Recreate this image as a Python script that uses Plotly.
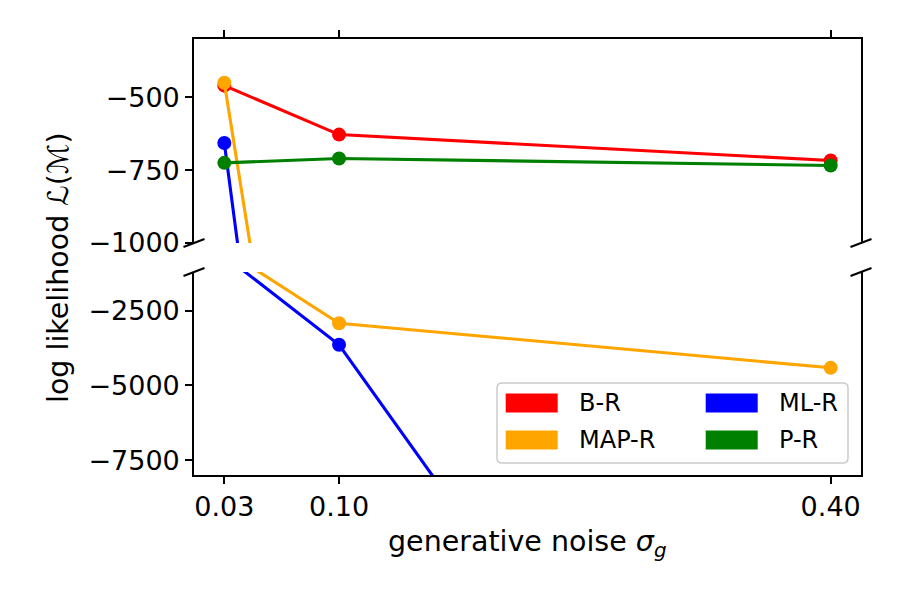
import plotly.graph_objects as go

# ---- data ----
sigma_g = [0.03, 0.10, 0.40]
sigma_labels = ["0.03", "0.10", "0.40"]
series_names = ["B-R", "MAP-R", "ML-R", "P-R"]
b_r = [-460, -628, -717]
map_r = [-450, -2916, -4410]
ml_r = [-657, -3638, -26700]
p_r = [-725, -710, -734]
series_colors = ["#ff0000", "#ffa500", "#0000ff", "#008000"]
top_ticks = [-500, -750, -1000]
bottom_ticks = [-2500, -5000, -7500]

# ---- layout geometry (pixels) ----
W, H = 900, 600
L, R, T, B = 194, 39, 39, 125
PW = W - L - R
PH = H - T - B
FONT = "DejaVu Sans"


def px(x):
    return (x - L) / PW


def py(y):
    return (H - B - y) / PH


fig = go.Figure()
all_vals = [b_r, map_r, ml_r, p_r]
for name, vals, c in zip(series_names, all_vals, series_colors):
    for xa, ya in (("x2", "y2"), ("x", "y")):
        fig.add_trace(go.Scatter(
            x=sigma_g, y=vals, mode="lines+markers", name=name,
            xaxis=xa, yaxis=ya,
            line=dict(color=c, width=3.1),
            marker=dict(color=c, size=14, line=dict(width=0)),
            showlegend=False, cliponaxis=True,
        ))

axis_common = dict(
    showline=True, linecolor="black", linewidth=1.6,
    ticks="outside", ticklen=7, tickwidth=1.6, tickcolor="black",
    showgrid=False, zeroline=False,
    tickfont=dict(family=FONT, size=27, color="black"),
)

fig.update_layout(
    width=W, height=H,
    margin=dict(l=L, r=R, t=T, b=B),
    paper_bgcolor="white", plot_bgcolor="white",
    showlegend=False,
    font=dict(family=FONT, color="black"),
    xaxis=dict(domain=[0, 1], range=[0.0115, 0.4185], anchor="y",
               tickvals=sigma_g, ticktext=sigma_labels, **axis_common),
    xaxis2=dict(domain=[0, 1], range=[0.0115, 0.4185], anchor="y2",
                matches="x", side="top", showticklabels=False,
                tickvals=sigma_g, **axis_common),
    yaxis=dict(domain=[0, py(272)], range=[-8000, -1200], anchor="x",
               mirror=True, tickvals=bottom_ticks, **axis_common),
    yaxis2=dict(domain=[py(243), 1], range=[-1000, -300], anchor="x2",
                mirror=True, tickvals=top_ticks, **axis_common),
)

shapes = []
# break marks
for cx in (L, W - R):
    for cy in (243, 272):
        shapes.append(dict(type="line", xref="paper", yref="paper",
                           x0=px(cx - 10.5), y0=py(cy + 4),
                           x1=px(cx + 10.5), y1=py(cy - 4),
                           line=dict(color="black", width=2.2)))

# legend frame (rounded)
x0, x1, y0, y1, r = 497, 848, 383, 463, 5
path = (f"M {px(x0 + r)},{py(y0)} L {px(x1 - r)},{py(y0)} "
        f"Q {px(x1)},{py(y0)} {px(x1)},{py(y0 + r)} "
        f"L {px(x1)},{py(y1 - r)} Q {px(x1)},{py(y1)} {px(x1 - r)},{py(y1)} "
        f"L {px(x0 + r)},{py(y1)} Q {px(x0)},{py(y1)} {px(x0)},{py(y1 - r)} "
        f"L {px(x0)},{py(y0 + r)} Q {px(x0)},{py(y0)} {px(x0 + r)},{py(y0)} Z")
shapes.append(dict(type="path", xref="paper", yref="paper", path=path,
                   fillcolor="rgba(255,255,255,0.8)",
                   line=dict(color="#cccccc", width=1.5), layer="above"))

annotations = []
col_x = [505.7, 705.7]
row_y = [403, 440]
for i, (name, c) in enumerate(zip(series_names, series_colors)):
    col, row = i // 2, i % 2
    xs, yc = col_x[col], row_y[row]
    shapes.append(dict(type="rect", xref="paper", yref="paper",
                       x0=px(xs), x1=px(xs + 52), y0=py(yc + 9.5), y1=py(yc - 9.5),
                       fillcolor=c, line=dict(width=0), layer="above"))
    annotations.append(dict(xref="paper", yref="paper", x=px(xs + 71), y=py(yc),
                            xanchor="left", yanchor="middle", showarrow=False,
                            text=name, font=dict(family=FONT, size=24, color="black")))

annotations.append(dict(xref="paper", yref="paper", x=px(527.5), y=py(543),
                        xanchor="center", yanchor="middle", showarrow=False,
                        text="generative noise <i>σ</i><sub><i>g</i></sub>",
                        font=dict(family=FONT, size=28.5, color="black")))
annotations.append(dict(xref="paper", yref="paper", x=px(58), y=py(268),
                        xanchor="center", yanchor="middle", showarrow=False,
                        textangle=-90, text="log likelihood ℒ(ℳ)",
                        font=dict(family=FONT, size=28.5, color="black")))

fig.update_layout(shapes=shapes, annotations=annotations)
fig.write_html("out.html")
